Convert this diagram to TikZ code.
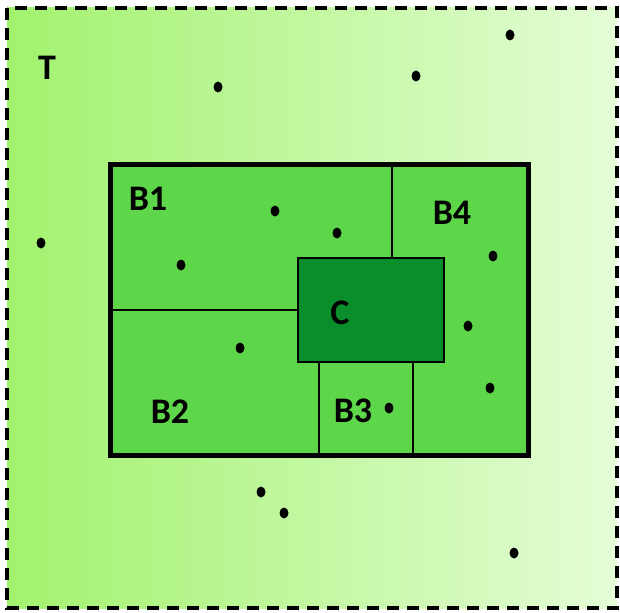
\documentclass[tikz,border=0pt]{standalone}
\usepackage{fontspec}
\setmainfont{Carlito}
\usetikzlibrary{shapes.geometric}
\definecolor{tleft}{RGB}{162,242,110}
\definecolor{tright}{RGB}{228,253,214}
\definecolor{bfill}{RGB}{94,214,74}
\definecolor{cfill}{RGB}{10,142,44}
\begin{document}
\begin{tikzpicture}[x=1pt,y=-1pt,
  lbl/.style={font=\bfseries\fontsize{36}{36}\selectfont, inner sep=0pt},
  pt/.style={ellipse, fill=black, minimum width=9pt, minimum height=11pt, inner sep=0pt},
]
\useasboundingbox (0,0) rectangle (620,612);
% outer region T
\shade[left color=tleft, right color=tright] (7,8) rectangle (617,608);
\draw[line width=4pt, dash pattern=on 12pt off 8pt] (7,8) rectangle (617,608);
% inner box
\fill[bfill] (110,165) rectangle (528,455);
% partitions
\draw[line width=1.3pt] (392,165) -- (392,258);
\draw[line width=1.3pt] (110,310) -- (298,310);
\draw[line width=1.3pt] (319,362) -- (319,455);
\draw[line width=1.3pt] (413,362) -- (413,455);
% C
\draw[line width=2.5pt, fill=cfill] (298,258) rectangle (444,362);
\draw[line width=5pt] (110,165) rectangle (528,455);
% labels
\node[lbl] (T) at (47,68) {T};
\node[lbl] (B1) at (148,199) {B1};
\node[lbl] (B4) at (452,213) {B4};
\node[lbl] (C) at (340,313) {C};
\node[lbl] (B2) at (170,412) {B2};
\node[lbl] (B3) at (353,411) {B3};
% points
\foreach \n/\x/\y in {p1/510/35, p2/218/87, p3/416/76, p4/41/243, p5/275/211, p6/337/233, p7/181/265, p8/493/256, p9/240/348, p10/468/326, p11/490/388, p12/389/408, p13/261/492, p14/284/513, p15/514/553}
  \node[pt] (\n) at (\x,\y) {};
\end{tikzpicture}
\end{document}
